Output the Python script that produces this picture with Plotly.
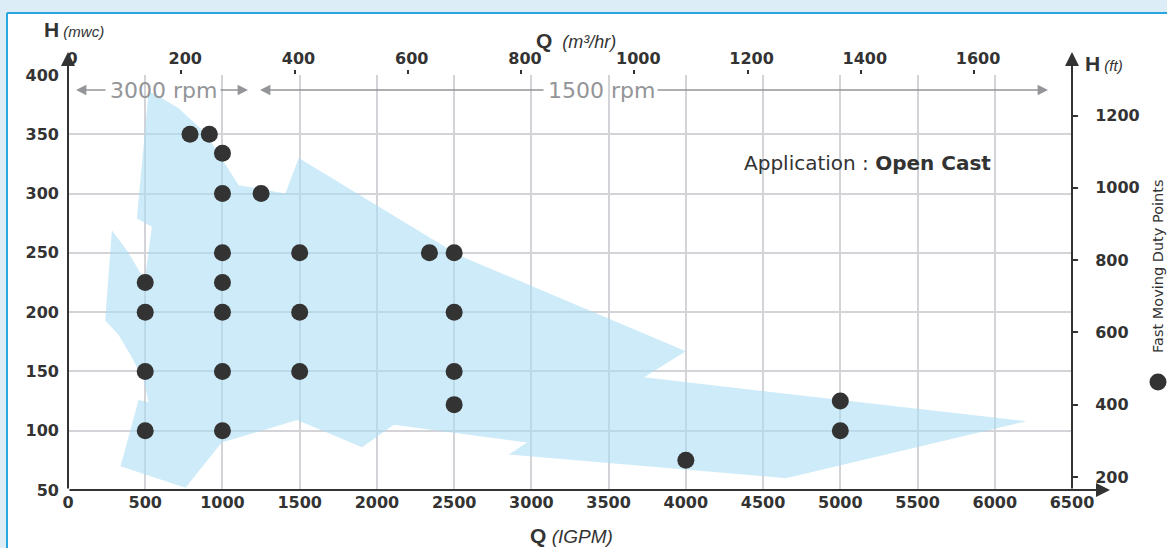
import plotly.graph_objects as go

# ---------------- data ----------------
IGPM_TO_M3H = 0.272765   # 1 imperial gpm in m3/hr
M_TO_FT = 3.28084

# duty points: flow (IGPM) and head (mwc)
duty_q = [790, 915, 1000, 1000, 1250, 1000, 1500, 500, 1000, 500, 1000, 1500,
          500, 1000, 1500, 500, 1000, 2340, 2500, 2500, 2500, 2500, 4000, 5000, 5000]
duty_h = [350, 350, 334, 300, 300, 250, 250, 225, 225, 200, 200, 200,
          150, 150, 150, 100, 100, 250, 250, 200, 150, 122, 75, 125, 100]

# coverage envelope outline (IGPM, mwc)
env_q = [522, 586, 716, 889, 1105, 1407, 1494, 2530, 4000, 3729, 6203, 4647,
         2854, 2973, 2109, 1904, 1483, 995, 761, 340, 457, 522, 489, 413,
         327, 241, 284, 392, 496, 543, 446]
env_h = [386, 382, 372, 351, 307, 300, 330, 248, 167, 145, 108, 60,
         80, 90, 105, 86, 109, 90, 52, 70, 126, 124, 143, 162,
         181, 193, 269, 250, 227, 272, 279]

x_ticks = list(range(0, 6501, 500))          # IGPM
y_ticks = list(range(50, 401, 50))           # mwc
top_ticks = list(range(0, 1601, 200))        # m3/hr
right_ticks = list(range(200, 1201, 200))    # ft

# ---------------- layout geometry ----------------
W, H = 1167, 548
L, R, T, B = 68, 1072, 75, 490


def px2x(px):
    return (px - L) / (R - L)


def py2y(py):
    return (B - py) / (B - T)


DARK = "#333333"
GRID = "#d3d3d8"
GREY = "#939598"
FONT = "DejaVu Sans"
tickfont = dict(family=FONT, size=16, color=DARK, weight="bold")

fig = go.Figure()
fig.add_trace(go.Scatter(
    x=env_q + [env_q[0]], y=env_h + [env_h[0]], fill="toself",
    fillcolor="rgba(172,222,243,0.6)", line=dict(width=0), mode="lines",
    hoverinfo="skip", showlegend=False))
fig.add_trace(go.Scatter(
    x=duty_q, y=duty_h, mode="markers",
    marker=dict(size=17, color=DARK, line=dict(width=0)),
    name="Fast Moving Duty Points", showlegend=False))
fig.add_trace(go.Scatter(x=[None], y=[None], xaxis="x2", yaxis="y2",
                         showlegend=False, hoverinfo="skip"))

fig.update_layout(
    width=W, height=H,
    margin=dict(l=L, r=W - R, t=T, b=H - B, pad=0),
    paper_bgcolor="white", plot_bgcolor="white",
    font=dict(family=FONT, color=DARK),
    xaxis=dict(range=[0, 6500], tickvals=x_ticks, showgrid=True, gridcolor=GRID,
               gridwidth=2, zeroline=False, showline=False, ticks="",
               tickfont=tickfont, ticklabelstandoff=1),
    yaxis=dict(range=[50, 400], tickvals=y_ticks, showgrid=True, gridcolor=GRID,
               gridwidth=2, zeroline=False, showline=False, ticks="",
               tickfont=tickfont, ticklabelstandoff=8),
    xaxis2=dict(range=[0, 6500 * IGPM_TO_M3H], tickvals=top_ticks, overlaying="x",
                side="top", showgrid=False, zeroline=False, showline=False,
                ticks="outside", ticklen=4, tickwidth=2, tickcolor=DARK,
                tickfont=tickfont, ticklabelstandoff=0, ticklabelshift=4),
    yaxis2=dict(range=[50 * M_TO_FT, 400 * M_TO_FT], tickvals=right_ticks,
                overlaying="y", side="right", showgrid=False, zeroline=False,
                showline=False, ticks="outside", ticklen=5, tickwidth=2,
                tickcolor=DARK, tickfont=tickfont, ticklabelstandoff=14),
)

shapes = [
    # page frame
    dict(type="rect", xref="paper", yref="paper", x0=px2x(0), x1=px2x(W),
         y0=py2y(13), y1=py2y(0), fillcolor="#dcedf8", line=dict(width=0), layer="below"),
    dict(type="rect", xref="paper", yref="paper", x0=px2x(0), x1=px2x(7),
         y0=py2y(H), y1=py2y(0), fillcolor="#dcedf8", line=dict(width=0), layer="below"),
    dict(type="line", xref="paper", yref="paper", x0=px2x(7), x1=px2x(W),
         y0=py2y(13), y1=py2y(13), line=dict(color="#2aa6df", width=2)),
    dict(type="line", xref="paper", yref="paper", x0=px2x(7), x1=px2x(7),
         y0=py2y(13), y1=py2y(H), line=dict(color="#2aa6df", width=2)),
    # legend symbol
    dict(type="circle", xref="paper", yref="paper", x0=px2x(1149.5), x1=px2x(1166.5),
         y0=py2y(390.5), y1=py2y(373.5), fillcolor=DARK, line=dict(width=0)),
]
fig.update_layout(shapes=shapes)


def arrow(tip_px, tip_py, tail_px, tail_py, color, width, size):
    return dict(xref="paper", yref="paper", x=px2x(tip_px), y=py2y(tip_py),
                ax=tail_px - tip_px, ay=tail_py - tip_py, text="", showarrow=True,
                arrowhead=2, arrowsize=size, arrowwidth=width, arrowcolor=color,
                standoff=0, startstandoff=0)


def label(px, py, text, size, color=DARK, xanchor="center", angle=0, family=FONT):
    return dict(xref="paper", yref="paper", x=px2x(px), y=py2y(py), text=text,
                showarrow=False, xanchor=xanchor, yanchor="middle", textangle=angle,
                font=dict(family=family, size=size, color=color))


TITLE_B = "<span style='font-family:Liberation Sans;font-size:21px'><b>%s</b></span>"
ann = [
    # axes with arrow heads
    arrow(L, 52, L, B, DARK, 2, 1.4),
    arrow(R, 52, R, B, DARK, 2, 1.4),
    arrow(1110, B, L, B, DARK, 2, 1.4),
    # speed ranges
    arrow(76, 90, 107, 90, GREY, 1.6, 1.3),
    arrow(248, 90, 219, 90, GREY, 1.6, 1.3),
    arrow(260, 90, 545, 90, GREY, 1.6, 1.3),
    arrow(1048, 90, 656, 90, GREY, 1.6, 1.3),
    label(163, 90, "3000 rpm", 22, GREY),
    label(601, 90, "1500 rpm", 22, GREY),
    # axis titles
    label(42, 30, TITLE_B % "H" + " <i>(mwc)</i>", 15, xanchor="left", family="Liberation Sans"),
    label(534, 41, TITLE_B % "Q" + "  <i>(m³/hr)</i>", 18, xanchor="left", family="Liberation Sans"),
    label(1083, 63, TITLE_B % "H" + " <i>(ft)</i>", 15, xanchor="left", family="Liberation Sans"),
    label(528, 535, TITLE_B % "Q" + " <i>(IGPM)</i>", 19, xanchor="left", family="Liberation Sans"),
    # application note
    label(993, 163, "Application : <b>Open Cast</b>", 20, xanchor="right"),
    # legend text
    label(1158, 266, "Fast Moving Duty Points", 14.5, angle=-90),
]
fig.update_layout(annotations=ann)

fig.write_html("out.html", config={"displayModeBar": False},
               post_script="document.body.style.margin='0';")
